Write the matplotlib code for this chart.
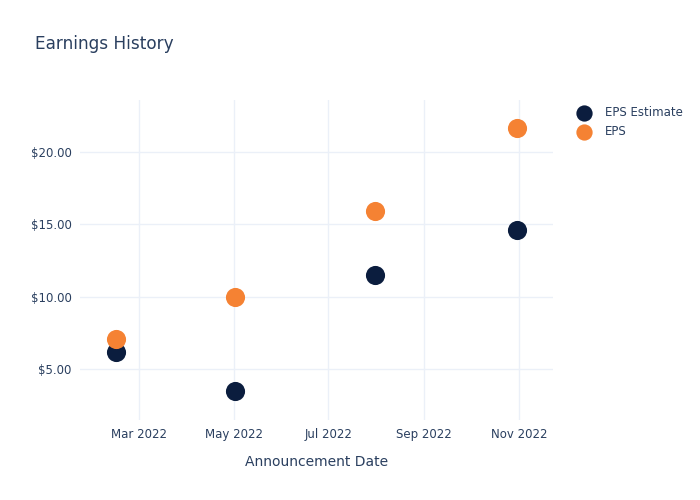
import matplotlib
matplotlib.use("Agg")
import matplotlib.pyplot as plt
import matplotlib.dates as mdates
import numpy as np
import pandas as pd

dates = pd.to_datetime(['2022-02-14', '2022-05-02', '2022-07-31', '2022-10-31'])
eps_estimate = [6.18, 3.48, 11.49, 14.58]
eps_actual = [7.08, 10.0, 15.9, 21.66]

text_color = '#2a3f5f'
grid_color = '#EBF0F8'

fig = plt.figure(figsize=(7, 5), dpi=100)
ax = fig.add_axes([0.1143, 0.16, 0.6757, 0.64])

ax.scatter(dates, eps_estimate, s=190, color='#0B1D3E', label='EPS Estimate', zorder=3, linewidths=0)
ax.scatter(dates, eps_actual, s=190, color='#F58233', label='EPS', zorder=3, linewidths=0)

ax.set_xlim(pd.Timestamp('2022-01-22'), pd.Timestamp('2022-11-23'))
ax.set_ylim(1.47, 23.6)

ax.xaxis.set_major_locator(mdates.MonthLocator(bymonth=[3, 5, 7, 9, 11]))
ax.xaxis.set_major_formatter(mdates.DateFormatter('%b %Y'))
ax.set_yticks([5, 10, 15, 20])
ax.yaxis.set_major_formatter(matplotlib.ticker.FuncFormatter(lambda v, p: f'${v:.2f}'))

ax.grid(True, color=grid_color, linewidth=1)
ax.set_axisbelow(True)
for s in ax.spines.values():
    s.set_visible(False)
ax.tick_params(length=0, labelsize=8.5, colors=text_color, pad=6)

ax.set_xlabel('Announcement Date', fontsize=10, color=text_color, labelpad=10)
fig.text(0.05, 0.912, 'Earnings History', fontsize=12.2, color=text_color, va='center')

leg = fig.legend(loc='upper left', bbox_to_anchor=(0.802, 0.81), frameon=False,
                 fontsize=8.5, handletextpad=0.8, labelspacing=0.55, markerscale=0.85)
for t in leg.get_texts():
    t.set_color(text_color)

fig.savefig('out.png', dpi=100)
